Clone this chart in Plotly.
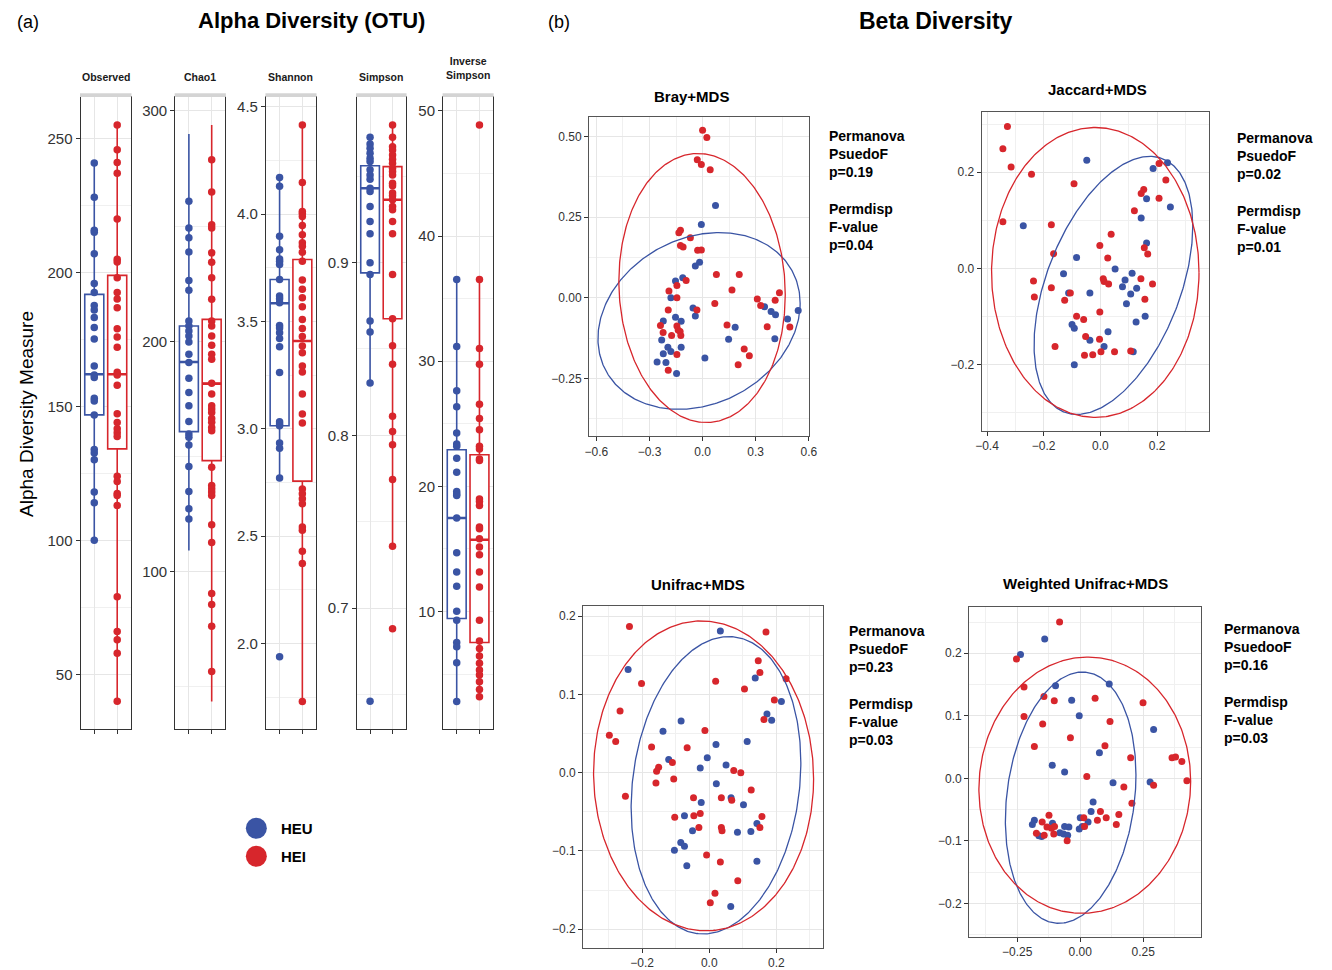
import numpy as np
import plotly.graph_objects as go

W, H = 1332, 970
BLUE = '#3A54A4'
RED = '#D7262C'
FONT = 'Liberation Sans, Arial, Helvetica, sans-serif'
GRID = '#E6E6E6'
MINOR = '#F0F0F0'
BORDER = '#333333'
TICKC = '#333333'

groups = ['HEU', 'HEI']
group_colors = [BLUE, RED]

# ---------------- Alpha diversity data ----------------
alpha_measures = ['Observed', 'Chao1', 'Shannon', 'Simpson', 'Inverse<br>Simpson']

observed_heu = [241.0, 228.2, 215.9, 215.1, 207.1, 196.0, 192.6, 187.8, 186.1, 183.3, 179.5, 175.2,
                165.2, 161.8, 160.9, 153.1, 152.1, 146.9, 134.0, 132.7, 130.1, 118.1, 114.1, 100.1]
observed_hei = [255.2, 245.9, 241.2, 237.2, 220.1, 205.0, 204.0, 198.1, 192.6, 190.2, 186.9, 179.1,
                176.0, 172.2, 162.8, 161.8, 158.0, 147.3, 144.1, 141.7, 140.2, 138.8, 124.0, 122.0,
                117.5, 116.8, 113.1, 79.0, 66.0, 62.9, 57.9, 39.9]
chao1_heu = [260.8, 249.2, 244.9, 238.8, 226.4, 222.1, 208.8, 206.6, 204.5, 202.3, 199.7, 194.4,
             190.8, 183.9, 177.8, 172.0, 165.2, 159.7, 158.3, 155.0, 145.6, 134.8, 127.3, 122.9]
chao1_hei = [278.8, 264.8, 250.6, 249.2, 238.4, 234.3, 227.6, 218.2, 208.8, 206.6, 202.3, 198.3,
             194.4, 192.2, 181.8, 177.1, 172.0, 170.6, 169.1, 166.5, 164.8, 162.6, 161.2, 145.3,
             137.4, 136.0, 134.6, 133.0, 120.4, 112.6, 90.5, 85.7, 76.3, 56.6]
shannon_heu = [4.171, 4.130, 3.897, 3.835, 3.792, 3.781, 3.766, 3.696, 3.619, 3.606, 3.588, 3.482,
               3.470, 3.448, 3.421, 3.383, 3.263, 3.033, 3.022, 3.014, 2.934, 2.909, 2.771, 1.938]
shannon_hei = [4.416, 4.148, 4.013, 4.003, 3.990, 3.947, 3.905, 3.867, 3.851, 3.823, 3.781, 3.693,
               3.650, 3.611, 3.569, 3.510, 3.467, 3.430, 3.386, 3.355, 3.293, 3.265, 3.162, 3.069,
               3.027, 2.720, 2.697, 2.674, 2.651, 2.542, 2.527, 2.429, 2.372, 1.729]
simpson_heu = [0.9724, 0.9686, 0.9661, 0.9632, 0.9603, 0.9584, 0.9536, 0.9507, 0.9482, 0.9430,
               0.9411, 0.9324, 0.9238, 0.9167, 0.8998, 0.8931, 0.8662, 0.8598, 0.8303, 0.6462]
simpson_hei = [0.9795, 0.9724, 0.9670, 0.9651, 0.9622, 0.9597, 0.9575, 0.9546, 0.9526, 0.9507,
               0.9459, 0.9444, 0.9402, 0.9386, 0.9363, 0.9324, 0.9305, 0.9238, 0.9167, 0.8931,
               0.8675, 0.8518, 0.8412, 0.8111, 0.8022, 0.7945, 0.7745, 0.7359, 0.6881]
invsimpson_heu = [36.53, 31.17, 27.63, 26.36, 24.26, 23.39, 23.20, 22.25, 21.13, 19.59, 19.40,
                  19.27, 17.47, 14.70, 13.16, 12.02, 10.02, 9.31, 7.53, 7.19, 5.91, 2.81]
invsimpson_hei = [48.88, 36.53, 31.01, 29.76, 26.57, 25.43, 24.53, 23.20, 22.99, 22.19, 22.06,
                  19.00, 18.79, 18.47, 16.75, 16.61, 15.82, 15.16, 14.54, 13.16, 11.97, 9.31,
                  7.64, 7.05, 6.44, 5.86, 5.32, 4.92, 4.40, 3.78, 3.20]

# box statistics: [q1, median, q3, lower whisker, upper whisker]
observed_box_heu = [146.9, 162.1, 191.9, 100.1, 241.0]
observed_box_hei = [134.2, 162.1, 199.0, 39.9, 255.2]
chao1_box_heu = [160.8, 191.0, 206.6, 109.2, 290.0]
chao1_box_hei = [148.2, 181.6, 209.5, 43.6, 293.9]
shannon_box_heu = [3.014, 3.585, 3.696, 2.771, 4.171]
shannon_box_hei = [2.756, 3.409, 3.789, 1.729, 4.416]
simpson_box_heu = [0.894, 0.943, 0.956, 0.8303, 0.9724]
simpson_box_hei = [0.8675, 0.9363, 0.9555, 0.7359, 0.9795]
invsimpson_box_heu = [9.44, 17.47, 22.93, 2.81, 36.53]
invsimpson_box_hei = [7.53, 15.74, 22.53, 3.20, 36.53]

# ---------------- Beta diversity data ----------------
beta_titles = ['Bray+MDS', 'Jaccard+MDS', 'Unifrac+MDS', 'Weighted Unifrac+MDS']

bray_heu_x = [0.073, -0.007, -0.017, -0.041, -0.112, -0.153, -0.179, -0.054, -0.041, -0.153, -0.121,
              -0.222, -0.231, -0.196, -0.179, -0.121, -0.222, -0.257, -0.207, 0.013, -0.147, 0.147,
              0.184, 0.350, 0.387, 0.412, 0.408, 0.480, 0.540]
bray_heu_y = [0.286, 0.227, 0.110, 0.098, 0.062, 0.052, 0.000, -0.032, -0.057, -0.061, -0.073,
              -0.072, -0.131, -0.154, -0.167, -0.154, -0.174, -0.199, -0.201, -0.187, -0.235, -0.129,
              -0.092, -0.028, -0.043, -0.053, -0.127, -0.066, -0.040]
bray_hei_x = [0.000, 0.024, -0.030, -0.007, 0.043, -0.125, -0.134, -0.069, -0.125, -0.110, -0.028,
              -0.007, 0.078, 0.207, -0.093, 0.166, -0.190, -0.145, -0.145, 0.434, 0.309, 0.328, 0.410,
              -0.194, -0.032, 0.069, -0.238, -0.223, -0.145, -0.138, -0.127, -0.175, -0.123, 0.138,
              0.365, 0.493, 0.235, 0.264, -0.145, 0.201, -0.194]
bray_hei_y = [0.519, 0.497, 0.428, 0.413, 0.397, 0.209, 0.201, 0.186, 0.162, 0.157, 0.147, 0.148,
              0.072, 0.072, 0.053, 0.024, 0.021, 0.038, 0.000, 0.015, -0.004, -0.024, -0.008, -0.038,
              -0.038, -0.018, -0.086, -0.108, -0.088, -0.100, -0.105, -0.117, -0.117, -0.085, -0.090,
              -0.091, -0.159, -0.180, -0.176, -0.208, -0.225]

jaccard_heu_x = [-0.048, -0.272, -0.084, -0.130, -0.112, -0.037, 0.052, 0.087, 0.078, 0.112, 0.107,
                 0.128, 0.092, 0.126, 0.158, -0.100, -0.092, -0.037, 0.027, 0.013, -0.092, 0.116,
                 0.144, 0.163, 0.163, 0.186, 0.237, 0.247]
jaccard_heu_y = [0.225, 0.089, 0.023, -0.011, -0.051, -0.051, -0.001, -0.024, -0.038, -0.010, -0.053,
                 -0.041, -0.073, -0.111, -0.099, -0.116, -0.124, -0.149, -0.131, -0.162, -0.200, -0.173,
                 0.105, 0.145, 0.053, 0.208, 0.220, 0.128]
jaccard_hei_x = [-0.328, -0.344, -0.315, -0.243, -0.344, -0.093, -0.173, -0.165, -0.236, -0.233, -0.173,
                 -0.126, -0.106, -0.084, -0.059, -0.052, -0.002, -0.003, -0.056, -0.027, 0.002, 0.050,
                 0.107, -0.160, -0.002, 0.038, 0.026, 0.010, 0.013, 0.029, 0.120, 0.144, 0.153, 0.155,
                 0.167, 0.143, 0.157, 0.184, 0.207, 0.207, 0.231]
jaccard_hei_y = [0.295, 0.249, 0.211, 0.196, 0.097, 0.176, 0.091, 0.031, -0.026, -0.059, -0.040,
                 -0.066, -0.051, -0.099, -0.106, -0.141, -0.090, -0.147, -0.180, -0.179, -0.173, -0.173,
                 -0.171, -0.162, 0.048, 0.071, 0.022, -0.021, -0.027, -0.032, 0.120, 0.156, 0.164, 0.043,
                 0.030, -0.021, -0.064, -0.032, 0.146, 0.218, 0.184]

unifrac_heu_x = [0.033, -0.242, 0.137, 0.215, 0.172, 0.186, -0.084, -0.138, -0.121, 0.020, 0.113,
                 -0.006, -0.027, 0.050, 0.021, -0.024, 0.065, 0.102, -0.074, -0.050, 0.084, 0.124,
                 0.142, 0.142, -0.085, -0.074, -0.104, -0.067, 0.064]
unifrac_heu_y = [0.181, 0.132, 0.121, 0.091, 0.075, 0.067, 0.066, 0.053, 0.017, 0.036, 0.040, 0.019,
                 0.006, 0.010, -0.014, -0.038, -0.032, -0.041, -0.055, -0.074, -0.076, -0.075, -0.065,
                 -0.113, -0.089, -0.094, -0.099, -0.119, -0.171]
unifrac_hei_x = [-0.238, -0.202, -0.266, -0.298, -0.279, -0.250, -0.172, -0.151, -0.157, -0.110, -0.159,
                 -0.106, -0.066, -0.013, 0.019, 0.105, 0.146, 0.151, 0.169, 0.229, 0.194, 0.163, 0.073,
                 0.094, 0.125, 0.036, 0.067, -0.047, -0.027, -0.046, -0.103, -0.031, 0.036, 0.038, 0.157,
                 0.151, -0.008, 0.033, 0.085, 0.017, 0.003]
unifrac_hei_y = [0.187, 0.114, 0.079, 0.048, 0.040, -0.030, 0.033, 0.007, 0.002, 0.013, -0.013, -0.008,
                 0.032, 0.054, 0.117, 0.107, 0.143, 0.128, 0.180, 0.120, 0.093, 0.068, 0.003, 0.000,
                 -0.022, -0.032, -0.035, -0.032, -0.052, -0.055, -0.057, -0.070, -0.070, -0.074, -0.056,
                 -0.070, -0.105, -0.114, -0.138, -0.154, -0.166]

wunifrac_heu_x = [-0.141, -0.237, -0.098, 0.115, -0.034, -0.004, 0.291, 0.076, -0.111, -0.062, 0.130,
                  0.277, 0.051, 0.043, 0.000, 0.031, 0.008, -0.004, -0.182, -0.190, -0.110, -0.062,
                  -0.045, -0.081, -0.066, -0.050, -0.164, -0.153]
wunifrac_heu_y = [0.223, 0.198, 0.148, 0.151, 0.125, 0.100, 0.078, 0.041, 0.021, 0.010, -0.007,
                  -0.006, -0.038, -0.053, -0.063, -0.070, -0.077, -0.081, -0.067, -0.074, -0.072,
                  -0.077, -0.078, -0.087, -0.089, -0.091, -0.092, -0.093]
wunifrac_hei_x = [-0.082, -0.253, -0.223, -0.223, -0.144, -0.103, -0.149, -0.182, -0.039, 0.059, 0.249,
                  0.118, 0.098, 0.200, 0.026, 0.364, 0.378, 0.403, 0.423, 0.291, 0.173, 0.205, 0.153,
                  0.143, 0.103, 0.080, 0.068, 0.014, 0.017, -0.124, -0.151, -0.132, -0.114, -0.102,
                  -0.105, -0.143, -0.174, -0.052]
wunifrac_hei_y = [0.250, 0.191, 0.146, 0.099, 0.131, 0.124, 0.087, 0.051, 0.065, 0.128, 0.121, 0.091,
                  0.052, 0.033, 0.003, 0.033, 0.034, 0.027, -0.004, -0.011, -0.014, -0.040, -0.058,
                  -0.074, -0.063, -0.053, -0.067, -0.063, -0.077, -0.059, -0.070, -0.078, -0.080,
                  -0.077, -0.089, -0.091, -0.088, -0.100]

# ellipse parameters: [centre x, centre y, half-width x, half-height y, correlation]
bray_ellipse_heu = [-0.020, -0.072, 0.571, 0.274, 0.20]
bray_ellipse_hei = [-0.003, 0.030, 0.470, 0.417, -0.05]
jaccard_ellipse_heu = [0.046, -0.035, 0.280, 0.268, 0.46]
jaccard_ellipse_hei = [-0.018, -0.008, 0.366, 0.301, 0.0]
unifrac_ellipse_heu = [0.020, -0.016, 0.253, 0.190, 0.15]
unifrac_ellipse_hei = [-0.017, -0.004, 0.328, 0.198, -0.02]
wunifrac_ellipse_heu = [-0.038, -0.031, 0.259, 0.201, 0.18]
wunifrac_ellipse_hei = [0.018, -0.011, 0.420, 0.205, 0.03]

beta_stats = [
    ['Permanova', 'PsuedoF', 'p=0.19', '', 'Permdisp', 'F-value', 'p=0.04'],
    ['Permanova', 'PsuedoF', 'p=0.02', '', 'Permdisp', 'F-value', 'p=0.01'],
    ['Permanova', 'PsuedoF', 'p=0.23', '', 'Permdisp', 'F-value', 'p=0.03'],
    ['Permanova', 'PsuedooF', 'p=0.16', '', 'Permdisp', 'F-value', 'p=0.03'],
]

# ---------------- layout helpers ----------------
def px_x(p):
    return p / W


def px_y(p):
    return 1 - p / H


fig = go.Figure()
layout = dict(width=W, height=H, margin=dict(l=0, r=0, t=0, b=0), paper_bgcolor='white',
              plot_bgcolor='white', showlegend=False, boxmode='overlay',
              font=dict(family=FONT, color='black'))
annotations = []
shapes = []


def ax_names(i):
    return ('xaxis' if i == 1 else f'xaxis{i}', 'yaxis' if i == 1 else f'yaxis{i}',
            'x' if i == 1 else f'x{i}', 'y' if i == 1 else f'y{i}')


def base_axis(size):
    return dict(showline=True, mirror=True, linecolor=BORDER, linewidth=1, ticks='outside', ticklen=4,
                tickcolor=BORDER, tickwidth=1, showgrid=True, gridcolor=GRID, gridwidth=1,
                zeroline=False, tickfont=dict(family=FONT, size=size, color=TICKC))


# ---------------- alpha panels ----------------
alpha_points = [(observed_heu, observed_hei), (chao1_heu, chao1_hei), (shannon_heu, shannon_hei),
                (simpson_heu, simpson_hei), (invsimpson_heu, invsimpson_hei)]
alpha_boxes = [(observed_box_heu, observed_box_hei), (chao1_box_heu, chao1_box_hei),
               (shannon_box_heu, shannon_box_hei), (simpson_box_heu, simpson_box_hei),
               (invsimpson_box_heu, invsimpson_box_hei)]
alpha_xpx = [(75.3, 126.3), (171, 221.7), (262.7, 313.3), (354.3, 404.3), (441.7, 492.3)]
alpha_ypx = (97.3, 730.7)
alpha_yrange = [(29.5, 265.6), (31.6, 306), (1.60, 4.546), (0.630, 0.9957), (0.6, 51.1)]
alpha_dtick = [50, 100, 0.5, 0.1, 10]
alpha_fmt = ['d', 'd', '.1f', '.1f', 'd']
BOXW = 0.83

for k in range(5):
    i = k + 1
    xn, yn, xr, yr = ax_names(i)
    x0, x1 = alpha_xpx[k]
    xa = base_axis(15)
    xa.update(domain=[px_x(x0), px_x(x1)], range=[0.4, 2.6], tickvals=[1, 2], showticklabels=False,
              anchor=yr)
    ya = base_axis(15)
    ya.update(domain=[px_y(alpha_ypx[1]), px_y(alpha_ypx[0])], range=list(alpha_yrange[k]),
              tick0=0, dtick=alpha_dtick[k], tickformat=alpha_fmt[k], anchor=xr,
              minor=dict(tick0=0, dtick=alpha_dtick[k] / 2, showgrid=True, gridcolor=MINOR,
                         gridwidth=0.7, ticks=''))
    layout[xn] = xa
    layout[yn] = ya
    for g in range(2):
        s = alpha_boxes[k][g]
        fig.add_trace(go.Box(x=[g + 1], q1=[s[0]], median=[s[1]], q3=[s[2]], lowerfence=[s[3]],
                             upperfence=[s[4]], width=BOXW, fillcolor='white', whiskerwidth=0,
                             line=dict(color=group_colors[g], width=1.6), boxpoints=False,
                             xaxis=xr, yaxis=yr, hoverinfo='skip'))
        # thicker median bar, as in ggplot
        fig.add_trace(go.Scatter(x=[g + 1 - BOXW / 2, g + 1 + BOXW / 2], y=[s[1], s[1]], mode='lines',
                                 line=dict(color=group_colors[g], width=2.6), xaxis=xr, yaxis=yr,
                                 hoverinfo='skip'))
    for g in range(2):
        vals = alpha_points[k][g]
        fig.add_trace(go.Scatter(x=[g + 1] * len(vals), y=vals, mode='markers',
                                 marker=dict(color=group_colors[g], size=7.5, line=dict(width=0)),
                                 xaxis=xr, yaxis=yr, hoverinfo='skip'))
    # strip
    shapes.append(dict(type='rect', xref='paper', yref='paper', x0=px_x(x0 - 0.5), x1=px_x(x1 + 0.5),
                       y0=px_y(97.3), y1=px_y(93.5), fillcolor='#D4D4D4', line=dict(width=0),
                       layer='above'))
    ty = 68 if k == 4 else 77
    annotations.append(dict(xref='paper', yref='paper', x=px_x((x0 + x1) / 2), y=px_y(ty),
                            text='<b>' + alpha_measures[k] + '</b>', showarrow=False,
                            xanchor='center', yanchor='middle',
                            font=dict(family=FONT, size=10.5, color='#1a1a1a')))

# ---------------- beta panels ----------------
beta_pts = [((bray_heu_x, bray_heu_y), (bray_hei_x, bray_hei_y)),
            ((jaccard_heu_x, jaccard_heu_y), (jaccard_hei_x, jaccard_hei_y)),
            ((unifrac_heu_x, unifrac_heu_y), (unifrac_hei_x, unifrac_hei_y)),
            ((wunifrac_heu_x, wunifrac_heu_y), (wunifrac_hei_x, wunifrac_hei_y))]
beta_ell = [(bray_ellipse_heu, bray_ellipse_hei), (jaccard_ellipse_heu, jaccard_ellipse_hei),
            (unifrac_ellipse_heu, unifrac_ellipse_hei), (wunifrac_ellipse_heu, wunifrac_ellipse_hei)]
beta_xpx = [(589.3, 811.7), (986.0, 1215.7), (583.3, 826.0), (973.3, 1207.7)]
beta_ypx = [(117.3, 437.3), (112.3, 431.7), (607.3, 950.0), (608.3, 939.0)]
beta_xrange = [(-0.641, 0.602), (-0.419, 0.383), (-0.376, 0.340), (-0.441, 0.479)]
beta_yrange = [(-0.430, 0.560), (-0.337, 0.325), (-0.224, 0.213), (-0.254, 0.274)]
beta_xdtick = [0.3, 0.2, 0.2, 0.25]
beta_ydtick = [0.25, 0.2, 0.1, 0.1]
beta_xfmt = ['.1f', '.1f', '.1f', '.2f']
beta_yfmt = ['.2f', '.1f', '.1f', '.1f']
beta_title_pos = [(693, 97), (1103, 90), (699, 586), (1091, 585)]
beta_stat_pos = [(830, 126), (1242, 128), (850, 622), (1229, 620)]

tt = np.linspace(0, 2 * np.pi, 361)
for k in range(4):
    i = k + 6
    xn, yn, xr, yr = ax_names(i)
    x0, x1 = beta_xpx[k]
    y0, y1 = beta_ypx[k]
    xa = base_axis(12)
    xa.update(domain=[px_x(x0), px_x(x1)], range=list(beta_xrange[k]), tick0=0, dtick=beta_xdtick[k],
              tickformat=beta_xfmt[k], anchor=yr, linecolor='#555555',
              minor=dict(tick0=0, dtick=beta_xdtick[k] / 2, showgrid=True, gridcolor=MINOR,
                         gridwidth=0.7, ticks=''))
    ya = base_axis(12)
    ya.update(domain=[px_y(y1), px_y(y0)], range=list(beta_yrange[k]), tick0=0, dtick=beta_ydtick[k],
              tickformat=beta_yfmt[k], anchor=xr, linecolor='#555555',
              minor=dict(tick0=0, dtick=beta_ydtick[k] / 2, showgrid=True, gridcolor=MINOR,
                         gridwidth=0.7, ticks=''))
    layout[xn] = xa
    layout[yn] = ya
    for g in range(2):
        px_, py_ = beta_pts[k][g]
        fig.add_trace(go.Scatter(x=px_, y=py_, mode='markers',
                                 marker=dict(color=group_colors[g], size=7, line=dict(width=0)),
                                 xaxis=xr, yaxis=yr, hoverinfo='skip'))
    for g in range(2):
        cx, cy, sx, sy, rho = beta_ell[k][g]
        ex = cx + sx * np.cos(tt)
        ey = cy + sy * (rho * np.cos(tt) + np.sqrt(1 - rho ** 2) * np.sin(tt))
        fig.add_trace(go.Scatter(x=ex, y=ey, mode='lines', line=dict(color=group_colors[g], width=1.3),
                                 xaxis=xr, yaxis=yr, hoverinfo='skip'))
    tx, tyy = beta_title_pos[k]
    annotations.append(dict(xref='paper', yref='paper', x=px_x(tx), y=px_y(tyy),
                            text='<b>' + beta_titles[k] + '</b>', showarrow=False,
                            xanchor='center', yanchor='middle', font=dict(family=FONT, size=15)))
    sx_, sy_ = beta_stat_pos[k]
    annotations.append(dict(xref='paper', yref='paper', x=px_x(sx_), y=px_y(sy_),
                            text='<br>'.join('<b>' + s + '</b>' if s else ' ' for s in beta_stats[k]),
                            showarrow=False, xanchor='left', yanchor='top', align='left',
                            font=dict(family=FONT, size=14)))

# ---------------- legend panel ----------------
xn, yn, xr, yr = ax_names(10)
layout[xn] = dict(domain=[px_x(240), px_x(320)], range=[0, 80], visible=False, anchor=yr)
layout[yn] = dict(domain=[px_y(875), px_y(815)], range=[0, 60], visible=False, anchor=xr)
legend_y = [45, 17]
fig.add_trace(go.Scatter(x=[13, 13], y=legend_y, mode='markers',
                         marker=dict(color=group_colors, size=21, line=dict(width=0)),
                         xaxis=xr, yaxis=yr, hoverinfo='skip'))
for g in range(2):
    annotations.append(dict(xref=xr, yref=yr, x=36, y=legend_y[g], text='<b>' + groups[g] + '</b>',
                            showarrow=False, xanchor='left', yanchor='middle',
                            font=dict(family=FONT, size=15)))

# ---------------- titles ----------------
annotations += [
    dict(xref='paper', yref='paper', x=px_x(309), y=px_y(21), text='<b>Alpha Diversity (OTU)</b>',
         showarrow=False, xanchor='center', yanchor='middle', font=dict(family=FONT, size=22)),
    dict(xref='paper', yref='paper', x=px_x(940), y=px_y(21), text='<b>Beta Diversity</b>',
         showarrow=False, xanchor='center', yanchor='middle', font=dict(family=FONT, size=23)),
    dict(xref='paper', yref='paper', x=px_x(9), y=px_y(22), text='(a)', showarrow=False,
         xanchor='left', yanchor='middle', font=dict(family=FONT, size=18)),
    dict(xref='paper', yref='paper', x=px_x(546), y=px_y(22), text='(b)', showarrow=False,
         xanchor='left', yanchor='middle', font=dict(family=FONT, size=18)),
    dict(xref='paper', yref='paper', x=px_x(20), y=px_y(415), text='Alpha Diversity Measure',
         showarrow=False, xanchor='center', yanchor='middle', textangle=-90,
         font=dict(family=FONT, size=19)),
]

layout['annotations'] = annotations
layout['shapes'] = shapes
fig.update_layout(**layout)
fig.write_html('out.html')
